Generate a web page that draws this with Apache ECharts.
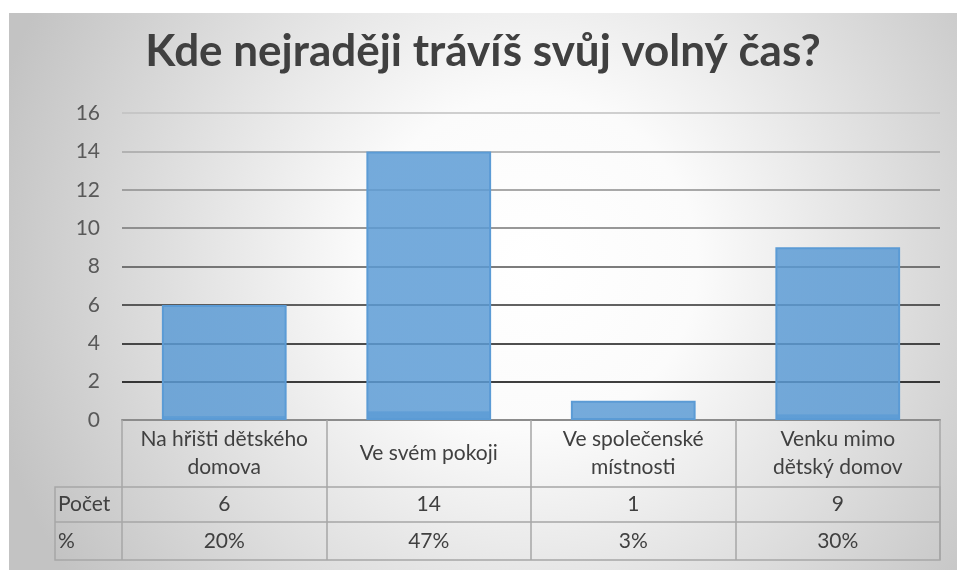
<!DOCTYPE html>
<html>
<head>
<meta charset="utf-8">
<script src="https://cdn.jsdelivr.net/npm/echarts@6/dist/echarts.min.js"></script>
<style>
  html, body { margin: 0; padding: 0; background: #fff; }
  #chart { position: absolute; left: 9px; top: 13px; width: 948px; height: 557px; }
</style>
</head>
<body>
<div id="chart"></div>
<script>
const title = 'Kde nejraději trávíš svůj volný čas?'
const categories = ['Na hřišti dětského\ndomova', 'Ve svém pokoji', 'Ve společenské\nmístnosti', 'Venku mimo\ndětský domov']
const counts = [6, 14, 1, 9]
const percents = ['20%', '47%', '3%', '30%']
const rowNames = ['Počet', '%']
const yTicks = { min: 0, max: 16, interval: 2 }

// table / grid layout (px inside the chart box)
const gridLeft = 113
const gridRight = 17
const gridTop = 100
const gridBottom = 150
const headRow = 67
const rowH = [35, 38]
const rowLabelW = 67

// split lines get darker towards the bottom
const splitColors = ['#000', '#000', '#141414', '#2e2e2e', '#505050', '#767676', '#8c8c8c', '#a6a6a6', '#c0c0c0']

const tableBorder = '#a6a6a6'
const textColor = '#404040'
const font = 'Lato, "Open Sans", sans-serif'
const tableFont = 21

const chart = echarts.init(document.getElementById('chart'))
const W = 948
const H = 557
const axisY = H - gridBottom
const tableLeft = gridLeft - rowLabelW
const tableRight = W - gridRight

chart.setOption({
  animation: false,
  backgroundColor: {
    type: 'radial', x: 0.55, y: 0.45, r: 1.0,
    colorStops: [
      { offset: 0, color: '#ffffff' },
      { offset: 0.3, color: '#fbfbfb' },
      { offset: 1, color: '#c3c3c3' }
    ]
  },
  title: {
    text: title,
    left: 'center',
    top: 12,
    padding: [5, 5, 5, 20],
    textStyle: { fontFamily: font, fontSize: 44, fontWeight: 'bold', color: textColor }
  },
  grid: { left: gridLeft, right: gridRight, top: gridTop, bottom: gridBottom },
  xAxis: [{
    type: 'category',
    data: categories,
    position: 'bottom',
    axisLine: { show: true, lineStyle: { color: '#8c8c8c', width: 2 } },
    axisTick: { show: true, length: headRow + rowH[0] + rowH[1], lineStyle: { color: tableBorder, width: 1.5 } },
    axisLabel: {
      interval: 0, margin: headRow / 2, verticalAlign: 'middle',
      fontFamily: font, fontSize: tableFont, lineHeight: 28, color: textColor
    }
  }, {
    type: 'category',
    data: categories,
    position: 'bottom',
    offset: headRow,
    axisLine: { show: false },
    axisTick: { show: false },
    axisLabel: {
      interval: 0, margin: rowH[0] / 2, verticalAlign: 'middle',
      fontFamily: font, fontSize: tableFont, color: textColor,
      formatter: (v, i) => String(counts[i])
    }
  }, {
    type: 'category',
    data: categories,
    position: 'bottom',
    offset: headRow + rowH[0],
    axisLine: { show: false },
    axisTick: { show: false },
    axisLabel: {
      interval: 0, margin: rowH[1] / 2, verticalAlign: 'middle',
      fontFamily: font, fontSize: tableFont, color: textColor,
      formatter: (v, i) => percents[i]
    }
  }],
  yAxis: {
    type: 'value',
    min: yTicks.min,
    max: yTicks.max,
    interval: yTicks.interval,
    axisLine: { show: false },
    axisTick: { show: false },
    axisLabel: { margin: 22, fontFamily: font, fontSize: 21, color: '#595959' },
    splitLine: { lineStyle: { color: splitColors, width: 1.5 } }
  },
  series: [{
    type: 'bar',
    xAxisIndex: 0,
    data: counts,
    barWidth: '61%',
    itemStyle: {
      color: {
        type: 'linear', x: 0, y: 0, x2: 0, y2: 1,
        colorStops: [
          { offset: 0, color: 'rgba(91,155,213,0.84)' },
          { offset: 0.965, color: 'rgba(91,155,213,0.84)' },
          { offset: 0.97, color: 'rgba(91,155,213,0.97)' },
          { offset: 1, color: 'rgba(91,155,213,0.97)' }
        ]
      },
      borderColor: '#5b9bd5',
      borderWidth: 2
    }
  }],
  graphic: [{
    type: 'rect',
    shape: { x: tableLeft, y: axisY + headRow, width: tableRight - tableLeft, height: rowH[0] + rowH[1] },
    style: { fill: 'none', stroke: tableBorder, lineWidth: 1.5 }
  }, {
    type: 'line',
    shape: { x1: tableLeft, y1: axisY + headRow + rowH[0], x2: tableRight, y2: axisY + headRow + rowH[0] },
    style: { stroke: tableBorder, lineWidth: 1.5 }
  }, {
    type: 'text',
    x: tableLeft + 3,
    y: axisY + headRow + rowH[0] / 2,
    style: { text: rowNames[0], fontFamily: font, fontSize: tableFont, fill: textColor, verticalAlign: 'middle' }
  }, {
    type: 'text',
    x: tableLeft + 3,
    y: axisY + headRow + rowH[0] + rowH[1] / 2,
    style: { text: rowNames[1], fontFamily: font, fontSize: tableFont, fill: textColor, verticalAlign: 'middle' }
  }]
})
</script>
</body>
</html>
